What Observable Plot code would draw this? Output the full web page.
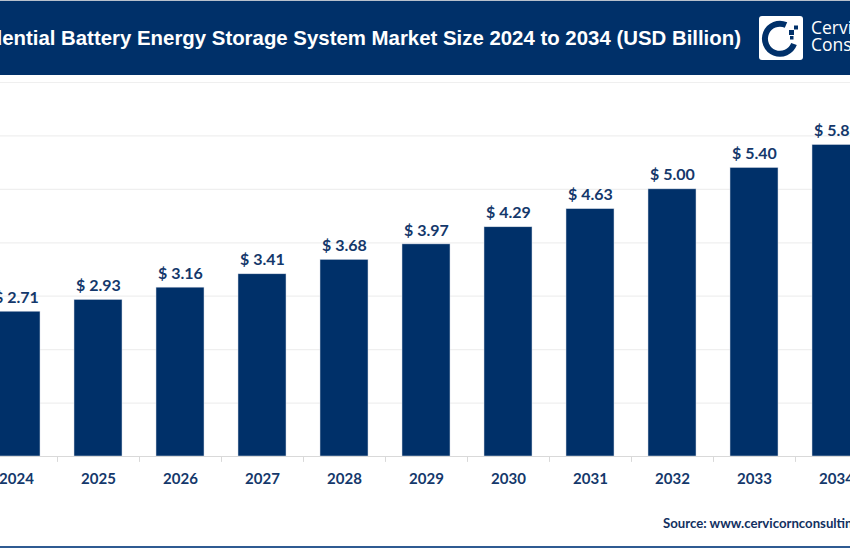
<!DOCTYPE html>
<html><head><meta charset="utf-8">
<script src="https://cdn.jsdelivr.net/npm/d3@7"></script>
<script src="https://cdn.jsdelivr.net/npm/@observablehq/plot@0.6"></script>
<style>
html,body{margin:0;padding:0;background:#fff;overflow:hidden}
#wrap{position:relative;width:850px;height:550px;overflow:hidden;background:#fff}
#wrap svg.plot{position:absolute;left:0;top:0}
#head{position:absolute;left:0;top:1px;width:850px;height:74px;background:#003069;border-top:0}
#topline{position:absolute;left:0;top:0;width:850px;height:1px;background:#b8c0cc}
#title{position:absolute;right:109px;top:26px;white-space:nowrap;color:#fff;font:bold 20.4px "Liberation Sans",Arial,sans-serif;line-height:22px}
#logo{position:absolute;left:759px;top:15px;width:44px;height:44px;background:#fff;border-radius:3px}
#brand{position:absolute;left:811px;top:18px;color:#fff;font:17.5px/16.5px "Open Sans",sans-serif;white-space:nowrap}
#source{position:absolute;left:663px;top:515px;color:#12305f;font:bold 13.2px "Lato",sans-serif;white-space:nowrap}
#bottom{position:absolute;left:0;top:546px;width:850px;height:2px;background:#2f5b92}
</style></head><body>
<div id="wrap">
<div id="topline"></div>
<div id="source">Source: www.cervicornconsulting.com</div>
<div id="bottom"></div>
</div>
<script>
const years = ["2024","2025","2026","2027","2028","2029","2030","2031","2032","2033","2034"];
const sizes = [2.71,2.93,3.16,3.41,3.68,3.97,4.29,4.63,5.00,5.40,5.83];
const gridValues = [1,2,3,4,5,6,7];
const titleText = "Residential Battery Energy Storage System Market Size 2024 to 2034 (USD Billion)";
const rows = years.map((year,i)=>({year,size:sizes[i]}));
const navy = "#003069", ink = "#14386b";

const chart = Plot.plot({
  width:850,height:550,
  marginTop:0,marginRight:0,marginBottom:0,marginLeft:0,
  style:{background:"transparent",overflow:"hidden"},
  x:{domain:years,range:[-42.8,894.2],padding:0.415,align:0.5,label:null},
  y:{domain:[0,7],range:[456,82],label:null},
  marks:[
    Plot.ruleY(gridValues,{stroke:"#efefef",strokeWidth:1.2}),
    Plot.ruleX(years,{x:d=>d,dx:-41,y1:0,y2:-0.11,stroke:"#d9d9d9",strokeWidth:1}),
    Plot.barY(rows,{x:"year",y:"size",fill:navy,stroke:"#d5dce6",strokeWidth:0.5}),
    Plot.ruleY([0],{stroke:"#d9d9d9",strokeWidth:1}),
    Plot.text(rows,{x:"year",y:"size",text:d=>"$ "+d.size.toFixed(2),dy:-14,fill:ink,
      fontFamily:"Lato",fontWeight:700,fontSize:16}),
    Plot.axisX({tickSize:0,tickPadding:0,anchor:"bottom",y:0,dy:17,fill:ink,
      fontFamily:"Lato",fontWeight:700,fontSize:15,label:null})
  ]
});
const wrap = document.getElementById("wrap");
wrap.insertBefore(chart,wrap.firstChild);

const head = document.createElement("div");head.id="head";
const title = document.createElement("div");title.id="title";title.textContent=titleText;
const logo = document.createElement("div");logo.id="logo";
logo.innerHTML='<svg width="44" height="44" viewBox="0 0 44 44"><path d="M27 9A15 15 0 1 0 35 28" fill="none" stroke="#003069" stroke-width="6"/><rect x="30" y="14" width="5" height="5" fill="#003069"/><rect x="35" y="9.5" width="4" height="4" fill="#003069"/><rect x="31" y="20" width="3.5" height="3.5" fill="#003069"/></svg>';
const brand = document.createElement("div");brand.id="brand";brand.innerHTML="Cervicorn<br>Consulting";
head.append(title,logo,brand);
wrap.append(head);
</script>
</body></html>
